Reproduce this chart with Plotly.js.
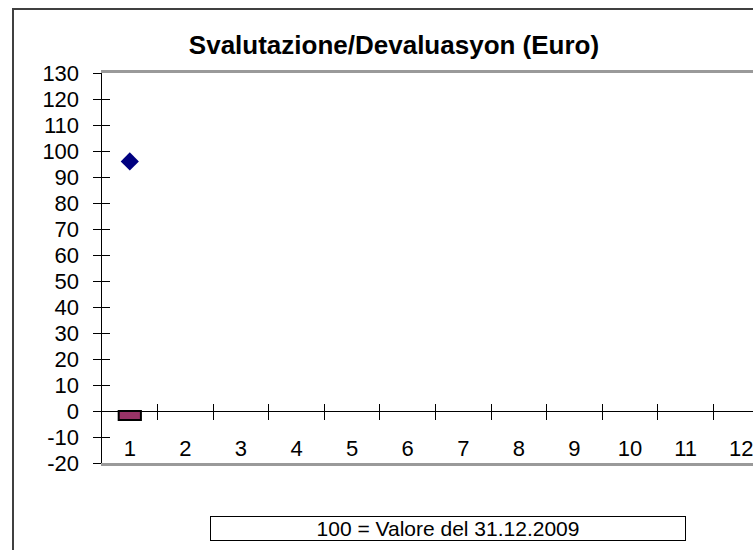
<!DOCTYPE html>
<html>
<head>
<meta charset="utf-8">
<script src="https://cdn.plot.ly/plotly-3.0.1.min.js"></script>
<style>
html,body{margin:0;padding:0;overflow:hidden;background:#fff;width:753px;height:550px;}
#frame{position:absolute;left:12px;top:8px;width:900px;height:700px;border:2px solid #404040;box-sizing:border-box;pointer-events:none;z-index:5;}
#chart{position:absolute;left:0;top:0;width:790px;height:550px;}
</style>
</head>
<body>
<div id="chart"></div>
<div id="frame"></div>
<script>
// Data
const categories = [1, 2, 3, 4, 5, 6, 7, 8, 9, 10, 11, 12];
const tickLabels = ["1", "2", "3", "4", "5", "6", "7", "8", "9", "10", "11", "12"];
const barValues = [-3.5, null, null, null, null, null, null, null, null, null, null, null];
const pointValues = [96, null, null, null, null, null, null, null, null, null, null, null];
const yTicks = [-20, -10, 0, 10, 20, 30, 40, 50, 60, 70, 80, 90, 100, 110, 120, 130];
const yTickLabels = ["-20", "-10", "0", "10", "20", "30", "40", "50", "60", "70", "80", "90", "100", "110", "120", "130"];
const titleText = "Svalutazione/Devaluasyon (Euro)";
const noteText = "100 = Valore del 31.12.2009";

const boundaries = categories.slice(1).map(c => c - 0.5);
const FONT = "Liberation Sans, Arial, sans-serif";
const xr = [0.5, 12.5];
const yr = [-20, 130];
const zeroPos = (0 - yr[0]) / (yr[1] - yr[0]);

const traces = [
  {
    type: "bar", x: categories, y: barValues, width: 0.4,
    marker: {color: "#993366", line: {color: "#000000", width: 2}},
    xaxis: "x", yaxis: "y", hoverinfo: "skip"
  },
  {
    type: "scatter", mode: "markers", x: categories, y: pointValues,
    marker: {symbol: "diamond", size: 14, color: "#000080"},
    xaxis: "x", yaxis: "y", hoverinfo: "skip"
  }
];

const common = {range: xr, showgrid: false, zeroline: false, fixedrange: true};

const layout = {
  width: 790, height: 550,
  margin: {l: 102, r: 21, t: 73, b: 87},
  paper_bgcolor: "#ffffff", plot_bgcolor: "#ffffff",
  showlegend: false,
  bargap: 0,
  font: {family: FONT, color: "#000000"},
  title: {
    text: "<b>" + titleText + "</b>",
    font: {family: FONT, size: 26, color: "#000000"},
    x: 394 / 790, xref: "container", xanchor: "center",
    y: 1 - 45 / 550, yref: "container", yanchor: "middle"
  },
  xaxis: Object.assign({}, common, {
    anchor: "free", position: zeroPos,
    tickmode: "array", tickvals: categories, ticktext: tickLabels,
    ticks: "", showline: true, linecolor: "#000000", linewidth: 1,
    tickfont: {family: FONT, size: 22, color: "#000000"},
    ticklabelstandoff: 18
  }),
  xaxis2: Object.assign({}, common, {
    overlaying: "x", anchor: "free", position: zeroPos,
    tickmode: "array", tickvals: boundaries, ticks: "outside", ticklen: 8,
    tickcolor: "#000000", tickwidth: 1, showticklabels: false, showline: false
  }),
  xaxis3: Object.assign({}, common, {
    overlaying: "x", anchor: "free", position: zeroPos,
    tickmode: "array", tickvals: boundaries, ticks: "inside", ticklen: 7,
    tickcolor: "#000000", tickwidth: 1, showticklabels: false, showline: false
  }),
  xaxis4: Object.assign({}, common, {
    overlaying: "x", anchor: "y", side: "bottom",
    showticklabels: false, ticks: "",
    showline: true, linecolor: "#9a9a9a", linewidth: 3, mirror: true
  }),
  yaxis: {
    range: yr, tickmode: "array", tickvals: yTicks, ticktext: yTickLabels,
    ticks: "outside", ticklen: 8, tickcolor: "#000000", tickwidth: 1,
    showline: true, linecolor: "#000000", linewidth: 1.5,
    showgrid: false, zeroline: false, fixedrange: true,
    tickfont: {family: FONT, size: 22, color: "#000000"},
    ticklabelstandoff: 9
  },
  yaxis2: {
    overlaying: "y", side: "left", range: yr, tickmode: "array", tickvals: yTicks,
    ticks: "inside", ticklen: 8, tickcolor: "#000000", tickwidth: 1,
    showticklabels: false, showline: false, showgrid: false, zeroline: false, fixedrange: true
  },
  annotations: [{
    text: noteText, xref: "paper", yref: "paper",
    x: (448 - 102) / 667, y: (463 - 528.5) / 390,
    xanchor: "center", yanchor: "middle", showarrow: false,
    width: 474, height: 23,
    bordercolor: "#000000", borderwidth: 1, borderpad: 0, bgcolor: "#ffffff",
    font: {family: FONT, size: 21, color: "#000000"}
  }]
};

// empty traces so overlaying axes render
traces.push({type: "scatter", x: [], y: [], xaxis: "x2", yaxis: "y", hoverinfo: "skip"});
traces.push({type: "scatter", x: [], y: [], xaxis: "x3", yaxis: "y", hoverinfo: "skip"});
traces.push({type: "scatter", x: [], y: [], xaxis: "x4", yaxis: "y", hoverinfo: "skip"});
traces.push({type: "scatter", x: [], y: [], xaxis: "x", yaxis: "y2", hoverinfo: "skip"});

Plotly.newPlot("chart", traces, layout, {staticPlot: true, displayModeBar: false});
</script>
</body>
</html>
